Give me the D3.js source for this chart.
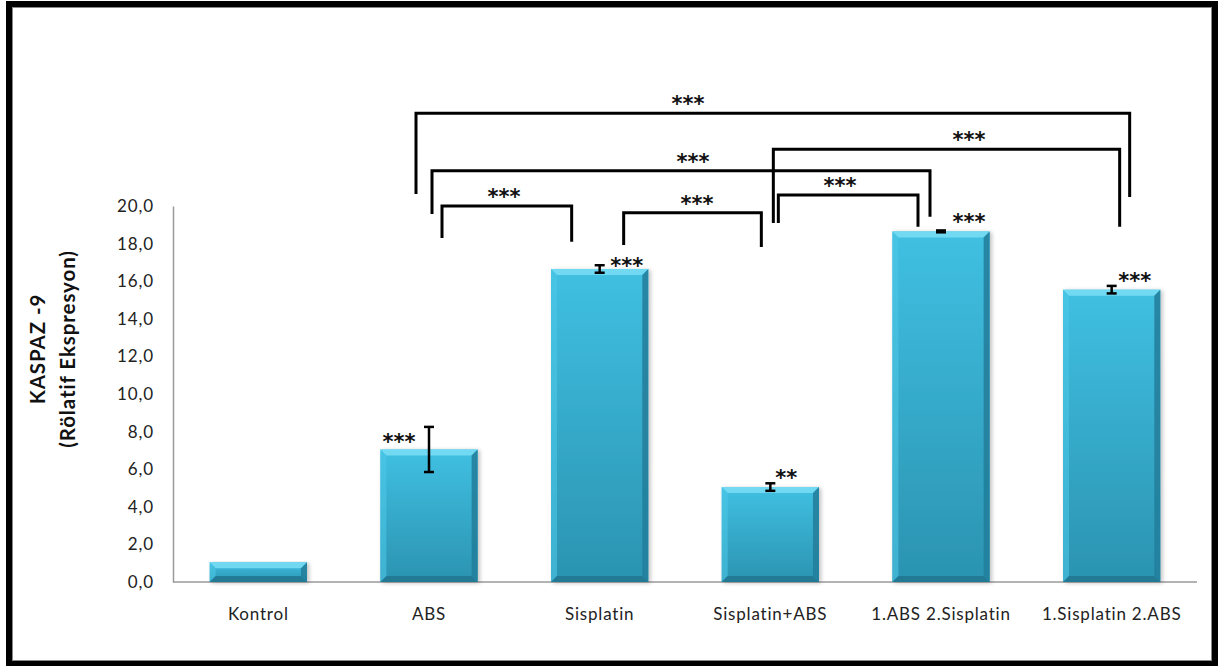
<!DOCTYPE html>
<html>
<head>
<meta charset="utf-8">
<script src="https://cdn.jsdelivr.net/npm/d3@7"></script>
<style>
  html, body { margin: 0; padding: 0; background: #fff; }
  svg { display: block; }
</style>
</head>
<body>
<svg id="chart" width="1218" height="666"></svg>
<script>
// Caspase-9 relative expression per treatment group
const categories = ["Kontrol", "ABS", "Sisplatin", "Sisplatin+ABS", "1.ABS 2.Sisplatin", "1.Sisplatin 2.ABS"];
const means = [1.05, 7.05, 16.65, 5.05, 18.65, 15.55];
const errors = [0, 1.2, 0.2, 0.2, 0.05, 0.2];
const barStars = ["", "***", "***", "**", "***", "***"];
const yTicks = [0, 2, 4, 6, 8, 10, 12, 14, 16, 18, 20];

// Pairwise comparisons: [group A, group B, significance]
const comparisons = [
  [1, 5, "***"],
  [1, 4, "***"],
  [1, 2, "***"],
  [2, 3, "***"],
  [3, 5, "***"],
  [3, 4, "***"]
];

const svg = d3.select("#chart");
const FONT = "Lato, 'Open Sans', sans-serif";

const plot = { left: 173, right: 1197, top: 206, bottom: 582 };

const x = d3.scaleBand()
  .domain(categories)
  .range([plot.left, plot.right])
  .paddingInner(0.43)
  .paddingOuter(0.215);

const y = d3.scaleLinear().domain([0, 20]).range([plot.bottom, plot.top]);

// Outer frame
svg.append("rect")
  .attr("x", 9).attr("y", 4).attr("width", 1206).attr("height", 660)
  .attr("fill", "#fff").attr("stroke", "#000").attr("stroke-width", 6);
svg.append("rect")
  .attr("x", 12.5).attr("y", 7.5).attr("width", 1199).attr("height", 653)
  .attr("fill", "none").attr("stroke", "#888").attr("stroke-width", 1);

const defs = svg.append("defs");
const grad = defs.append("linearGradient")
  .attr("id", "barFill").attr("x1", 0).attr("y1", 0).attr("x2", 0).attr("y2", 1);
grad.append("stop").attr("offset", "0%").attr("stop-color", "#40c0e2");
grad.append("stop").attr("offset", "100%").attr("stop-color", "#2b93b1");

const shadow = defs.append("filter").attr("id", "barShadow")
  .attr("x", "-10%").attr("y", "-10%").attr("width", "130%").attr("height", "130%");
shadow.append("feGaussianBlur").attr("in", "SourceAlpha").attr("stdDeviation", 2);
shadow.append("feOffset").attr("dx", 2).attr("dy", 1).attr("result", "off");
shadow.append("feComponentTransfer").append("feFuncA").attr("type", "linear").attr("slope", 0.25);
const merge = shadow.append("feMerge");
merge.append("feMergeNode");
merge.append("feMergeNode").attr("in", "SourceGraphic");

// Y axis
const yAxis = d3.axisLeft(y)
  .tickValues(yTicks)
  .tickSize(0)
  .tickPadding(19)
  .tickFormat(d => d3.format(".1f")(d).replace(".", ","));

const gy = svg.append("g").attr("transform", `translate(${plot.left},0)`).call(yAxis);
gy.select(".domain").attr("stroke", "#9a9a9a").attr("stroke-width", 1.5);
gy.selectAll("text").attr("font-family", FONT).attr("font-size", 17)
  .attr("letter-spacing", 0.9).attr("fill", "#222");

// X axis
const xAxis = d3.axisBottom(x).tickSize(0).tickPadding(26);
const gx = svg.append("g").attr("transform", `translate(0,${plot.bottom})`).call(xAxis);
gx.select(".domain").attr("stroke", "#9a9a9a").attr("stroke-width", 1.5)
  .attr("d", `M${plot.left},0H${plot.right}`);
gx.selectAll("text").attr("font-family", FONT).attr("font-size", 17)
  .attr("letter-spacing", 0.8).attr("fill", "#222");

// Y axis title
const yTitle = svg.append("text")
  .attr("transform", "translate(45,349) rotate(-90)")
  .attr("text-anchor", "middle")
  .attr("font-family", FONT).attr("font-weight", "bold").attr("font-size", 20.5)
  .attr("letter-spacing", 0.9).attr("fill", "#111");
yTitle.append("tspan").attr("x", 0).attr("dy", 0).text("KASPAZ -9");
yTitle.append("tspan").attr("x", 0).attr("dy", 30).text("(Rölatif Ekspresyon)");

// Bars with bevelled edges
const bw = x.bandwidth();
const bev = 6;
const bars = svg.append("g").selectAll("g").data(categories).join("g")
  .attr("filter", "url(#barShadow)");

bars.append("rect")
  .attr("x", d => x(d)).attr("y", (d, i) => y(means[i]))
  .attr("width", bw).attr("height", (d, i) => y(0) - y(means[i]))
  .attr("fill", "url(#barFill)");

function bevelPoly(d, i, side) {
  const x0 = x(d), x1 = x(d) + bw, y0 = y(means[i]), y1 = y(0);
  const b = Math.min(bev, (y1 - y0) / 2);
  if (side === "top") return [[x0, y0], [x1, y0], [x1 - b, y0 + b], [x0 + b, y0 + b]];
  if (side === "left") return [[x0, y0], [x0 + b, y0 + b], [x0 + b, y1 - b], [x0, y1]];
  if (side === "right") return [[x1, y0], [x1 - b, y0 + b], [x1 - b, y1 - b], [x1, y1]];
  return [[x0, y1], [x0 + b, y1 - b], [x1 - b, y1 - b], [x1, y1]];
}
const bevelColors = { top: "#78dcf4", left: "#4cc6e6", right: "#23809c", bottom: "#1f7791" };
["top", "left", "right", "bottom"].forEach(side => {
  bars.append("polygon")
    .attr("points", (d, i) => bevelPoly(d, i, side).join(" "))
    .attr("fill", bevelColors[side])
    .attr("opacity", side === "left" ? 0.6 : 0.9);
});

// Error bars
const eb = svg.append("g").attr("stroke", "#000").attr("stroke-width", 2.5);
categories.forEach((c, i) => {
  if (!errors[i]) return;
  const cx = x(c) + bw / 2;
  const lo = y(means[i] - errors[i]), hi = y(means[i] + errors[i]);
  eb.append("line").attr("x1", cx).attr("x2", cx).attr("y1", lo).attr("y2", hi);
  eb.append("line").attr("x1", cx - 5).attr("x2", cx + 5).attr("y1", lo).attr("y2", lo);
  eb.append("line").attr("x1", cx - 5).attr("x2", cx + 5).attr("y1", hi).attr("y2", hi);
});

// Significance marks above the bars
const starShift = [0, -30, 27, 16, 28, 23];
const starLift = [0, 10, 6, 12, 12, 12];
svg.append("g").selectAll("text").data(categories).join("text")
  .attr("x", (d, i) => x(d) + bw / 2 + starShift[i])
  .attr("y", (d, i) => y(means[i]) - starLift[i] + 10)
  .attr("text-anchor", "middle")
  .attr("font-family", "'DejaVu Sans', sans-serif").attr("font-weight", "bold")
  .attr("font-size", 21).attr("fill", "#111")
  .text((d, i) => barStars[i]);

// Comparison brackets: level and leg ends in axis units, x offsets from group centres
const bracketLayout = [
  { level: 24.93, legA: 20.64, legB: 20.48, dA: -13, dB: 18, starX: 688 },
  { level: 21.88, legA: 19.57, legB: 19.43, dA: 3, dB: -11, starX: 693 },
  { level: 20.0, legA: 18.3, legB: 18.1, dA: 13, dB: -28, starX: 504 },
  { level: 19.64, legA: 17.93, legB: 17.82, dA: 24, dB: -9, starX: 697 },
  { level: 23.02, legA: 19.1, legB: 18.9, dA: 3, dB: 8, starX: 969 },
  { level: 20.59, legA: 19.1, legB: 18.9, dA: 8, dB: -23, starX: 840 }
];
const gb = svg.append("g");
comparisons.forEach((cmp, k) => {
  const L = bracketLayout[k];
  const xa = x(categories[cmp[0]]) + bw / 2 + L.dA;
  const xb = x(categories[cmp[1]]) + bw / 2 + L.dB;
  const path = d3.path();
  path.moveTo(xa, y(L.legA));
  path.lineTo(xa, y(L.level));
  path.lineTo(xb, y(L.level));
  path.lineTo(xb, y(L.legB));
  gb.append("path").attr("d", path.toString())
    .attr("fill", "none").attr("stroke", "#000").attr("stroke-width", 3)
    .attr("stroke-linejoin", "miter");
  gb.append("text")
    .attr("x", L.starX).attr("y", y(L.level) - 2)
    .attr("text-anchor", "middle")
    .attr("font-family", "'DejaVu Sans', sans-serif").attr("font-weight", "bold")
    .attr("font-size", 21).attr("fill", "#111")
    .text(cmp[2]);
});
</script>
</body>
</html>
